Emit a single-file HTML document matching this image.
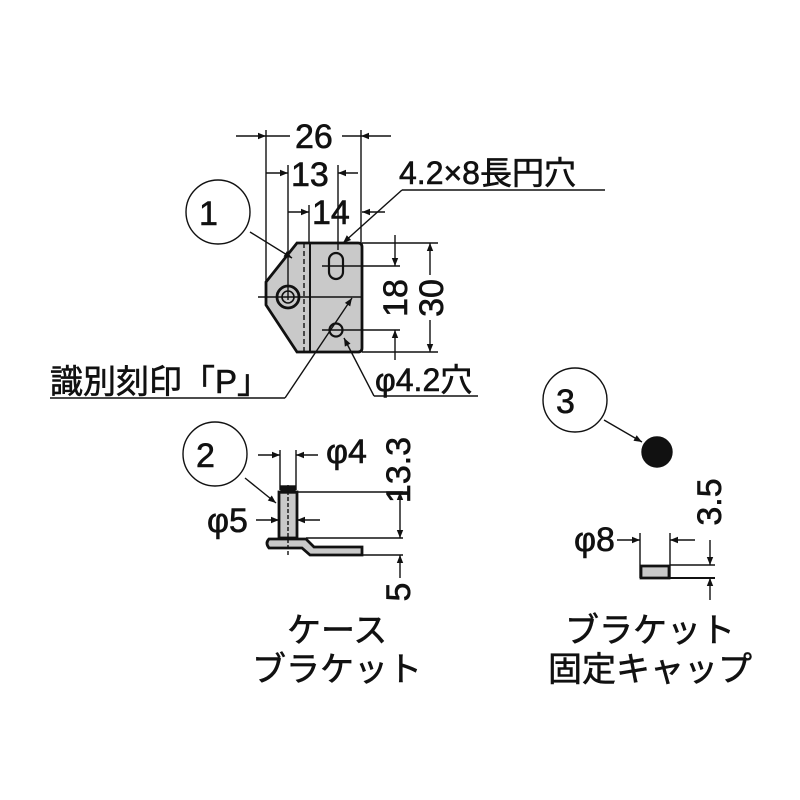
<!DOCTYPE html>
<html><head><meta charset="utf-8"><style>
html,body{margin:0;padding:0;background:#fff;width:800px;height:800px;overflow:hidden}
svg text{font-family:"Liberation Sans","Noto Sans CJK JP",sans-serif;fill:#111;stroke:#111;stroke-width:0.6}
</style></head><body>
<svg width="800" height="800" viewBox="0 0 800 800" xmlns="http://www.w3.org/2000/svg">
<defs>
<marker id="a" viewBox="0 0 10 10" refX="10" refY="5" markerWidth="13" markerHeight="8" orient="auto-start-reverse" markerUnits="userSpaceOnUse"><path d="M0,1 L10,5 L0,9z" fill="#111"/></marker>
</defs>
<g stroke="#111" stroke-width="1.4" fill="none">
<path d="M297,243 L358,243 Q362,243 362,247 L362,348 Q362,352 358,352 L297,352 L266,305 L266,282 Z" fill="#c9c9c9" stroke-width="2.8"/>
<line x1="310" y1="243" x2="310" y2="352" stroke-width="2"/>
<line x1="304" y1="243" x2="304" y2="352" stroke-dasharray="5,3"/>
<rect x="329" y="253" width="14" height="26" rx="7" stroke-width="2.2"/>
<circle cx="336" cy="330" r="6.5" stroke-width="2.2"/>
<circle cx="288" cy="297" r="11" stroke-width="2.8"/>
<circle cx="288" cy="297" r="6" stroke-width="1.6"/>
<line x1="258" y1="297" x2="362" y2="297"/>
<line x1="266" y1="130" x2="266" y2="300"/>
<line x1="361" y1="130" x2="361" y2="243"/>
<line x1="236" y1="136" x2="266" y2="136" marker-end="url(#a)"/>
<line x1="391" y1="136" x2="361" y2="136" marker-end="url(#a)"/>
<line x1="266" y1="136" x2="290" y2="136"/><line x1="342" y1="136" x2="361" y2="136"/>
<line x1="288" y1="165" x2="288" y2="300"/>
<line x1="338" y1="165" x2="338" y2="250"/>
<line x1="266" y1="173" x2="288" y2="173" marker-end="url(#a)"/>
<line x1="358" y1="173" x2="338" y2="173" marker-end="url(#a)"/>
<line x1="309" y1="205" x2="309" y2="243"/>
<line x1="288" y1="212" x2="309" y2="212" marker-end="url(#a)"/>
<line x1="385" y1="212" x2="362" y2="212" marker-end="url(#a)"/>
<line x1="362" y1="243" x2="438" y2="243"/>
<line x1="362" y1="352" x2="438" y2="352"/>
<line x1="322" y1="266" x2="400" y2="266"/>
<line x1="322" y1="330" x2="400" y2="330"/>
<line x1="430" y1="275" x2="430" y2="243" marker-end="url(#a)"/>
<line x1="430" y1="320" x2="430" y2="352" marker-end="url(#a)"/>
<line x1="395" y1="235" x2="395" y2="266" marker-end="url(#a)"/>
<line x1="395" y1="360" x2="395" y2="330" marker-end="url(#a)"/>
<line x1="605" y1="190" x2="402" y2="190"/>
<line x1="402" y1="190" x2="343" y2="243" marker-end="url(#a)"/>
<line x1="50" y1="398" x2="285" y2="398"/>
<line x1="285" y1="398" x2="352" y2="298" marker-end="url(#a)"/>
<line x1="374" y1="396" x2="478" y2="396"/>
<line x1="374" y1="396" x2="344" y2="338" marker-end="url(#a)"/>
<circle cx="218" cy="212" r="32"/>
<line x1="250" y1="232" x2="292" y2="258" marker-end="url(#a)"/>
<circle cx="215" cy="454" r="32"/>
<line x1="245" y1="478" x2="276" y2="503" marker-end="url(#a)"/>
<line x1="280" y1="450" x2="280" y2="490"/><line x1="296" y1="450" x2="296" y2="490"/>
<line x1="258" y1="455" x2="280" y2="455" marker-end="url(#a)"/>
<line x1="318" y1="455" x2="296" y2="455" marker-end="url(#a)"/>
<rect x="279" y="492" width="18" height="46" fill="#c9c9c9" stroke-width="2.8"/>
<rect x="281" y="486" width="14" height="7" fill="#111"/>
<path d="M269,539 L306,539 L314,547 L362,547 L362,555 L310,555 L302,548 L269,548 Q265,543 269,539Z" fill="#c9c9c9" stroke-width="2.8"/>
<line x1="288" y1="485" x2="288" y2="556" stroke-dasharray="4,2"/>
<line x1="256" y1="520" x2="279" y2="520" marker-end="url(#a)"/>
<line x1="320" y1="520" x2="297" y2="520" marker-end="url(#a)"/>
<line x1="297" y1="492" x2="403" y2="492"/>
<line x1="306" y1="538" x2="403" y2="538"/>
<line x1="360" y1="555" x2="403" y2="555"/>
<line x1="400" y1="515" x2="400" y2="492" marker-end="url(#a)"/>
<line x1="400" y1="515" x2="400" y2="538" marker-end="url(#a)"/>
<line x1="400" y1="578" x2="400" y2="555" marker-end="url(#a)"/>
<circle cx="575" cy="400" r="32"/>
<line x1="604" y1="420" x2="642" y2="442" marker-end="url(#a)"/>
<circle cx="657" cy="452" r="15" fill="#111"/>
<line x1="640" y1="533" x2="640" y2="578"/><line x1="670" y1="533" x2="670" y2="578"/>
<line x1="617" y1="540" x2="640" y2="540" marker-end="url(#a)"/>
<line x1="695" y1="540" x2="670" y2="540" marker-end="url(#a)"/>
<path d="M641,578 L641,566 L669,566 L669,578Z" fill="#c9c9c9" stroke-width="2.8"/>
<line x1="640" y1="578" x2="715" y2="578" stroke-width="2"/>
<line x1="670" y1="565" x2="715" y2="565"/>
<line x1="710" y1="540" x2="710" y2="565" marker-end="url(#a)"/>
<line x1="710" y1="600" x2="710" y2="578" marker-end="url(#a)"/>
</g>
<g font-size="34">
<text x="295" y="148">26</text>
<text x="291" y="186">13</text>
<text x="312" y="224">14</text>
<text x="399" y="184" font-size="32">4.2×8長円穴</text>
<text x="199" y="225">1</text>
<text x="50" y="393" font-size="33">識別刻印「P」</text>
<text x="375" y="391" font-size="32">φ4.2穴</text>
<text transform="translate(407,298) rotate(-90)" text-anchor="middle">18</text>
<text transform="translate(443,298) rotate(-90)" text-anchor="middle">30</text>
<text x="196" y="467">2</text>
<text x="326" y="463">φ4</text>
<text x="207" y="532">φ5</text>
<text transform="translate(410,470) rotate(-90)" text-anchor="middle">13.3</text>
<text transform="translate(410,592) rotate(-90)" text-anchor="middle">5</text>
<text x="556" y="413">3</text>
<text transform="translate(721,502) rotate(-90)" text-anchor="middle">3.5</text>
<text x="574" y="551">φ8</text>
<text x="287" y="642">ケース</text>
<text x="252" y="681">ブラケット</text>
<text x="565" y="642">ブラケット</text>
<text x="548" y="681">固定キャップ</text>
</g>
</svg>
</body></html>
